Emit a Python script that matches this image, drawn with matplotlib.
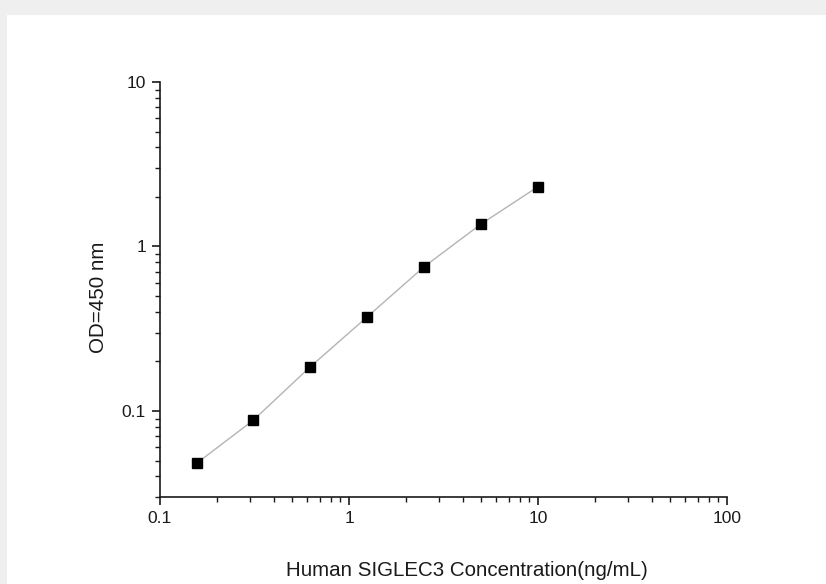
import matplotlib.pyplot as plt
from matplotlib.patches import Rectangle
from matplotlib.ticker import LogLocator, NullFormatter, FixedLocator, FixedFormatter

plt.rcParams['font.family'] = ['Liberation Sans', 'DejaVu Sans']

# standard curve data
conc = [0.156, 0.312, 0.625, 1.25, 2.5, 5, 10]
od = [0.048, 0.088, 0.186, 0.374, 0.754, 1.37, 2.31]

x_ticks = [0.1, 1, 10, 100]
x_labels = ['0.1', '1', '10', '100']
y_ticks = [0.1, 1, 10]
y_labels = ['0.1', '1', '10']

fig = plt.figure(figsize=(8.26, 5.84), dpi=100, facecolor='#efefef')
# white panel behind everything
fig.patches.append(Rectangle((7 / 826, 0), 1, 1 - 15 / 584, transform=fig.transFigure,
                             facecolor='white', edgecolor='none', zorder=-10))

ax = fig.add_axes([160 / 826, 1 - 497 / 584, (727 - 160) / 826, (497 - 82) / 584])
ax.set_facecolor('none')
ax.set_zorder(5)

ax.plot(conc, od, color='#b4b4b4', lw=1.0, zorder=2)
ax.plot(conc, od, ls='none', marker='s', ms=6.5, color='black', zorder=3)

ax.set_xscale('log')
ax.set_yscale('log')
ax.set_xlim(0.1, 100)
ax.set_ylim(0.030, 10)

ax.xaxis.set_major_locator(FixedLocator(x_ticks))
ax.xaxis.set_major_formatter(FixedFormatter(x_labels))
ax.yaxis.set_major_locator(FixedLocator(y_ticks))
ax.yaxis.set_major_formatter(FixedFormatter(y_labels))
ax.xaxis.set_minor_locator(LogLocator(base=10, subs=range(2, 10)))
ax.yaxis.set_minor_locator(LogLocator(base=10, subs=range(2, 10)))
ax.xaxis.set_minor_formatter(NullFormatter())
ax.yaxis.set_minor_formatter(NullFormatter())

for s in ['top', 'right']:
    ax.spines[s].set_visible(False)
for s in ['left', 'bottom']:
    ax.spines[s].set_linewidth(1.2)
    ax.spines[s].set_color('#1a1a1a')

ax.tick_params(which='major', direction='out', length=6, width=1.2, labelsize=12.5,
               colors='#1a1a1a', pad=4)
ax.tick_params(which='minor', direction='out', length=3.5, width=1.0, colors='#1a1a1a')

ax.set_xlabel('Human SIGLEC3 Concentration(ng/mL)', fontsize=14.8, color='#1a1a1a', va='center')
ax.set_ylabel('OD=450 nm', fontsize=14.8, color='#1a1a1a', va='center')
ax.xaxis.set_label_coords(0.541, -0.176)
ax.yaxis.set_label_coords(-0.108, 0.481)

fig.savefig('out.png', dpi=100, facecolor=fig.get_facecolor())
